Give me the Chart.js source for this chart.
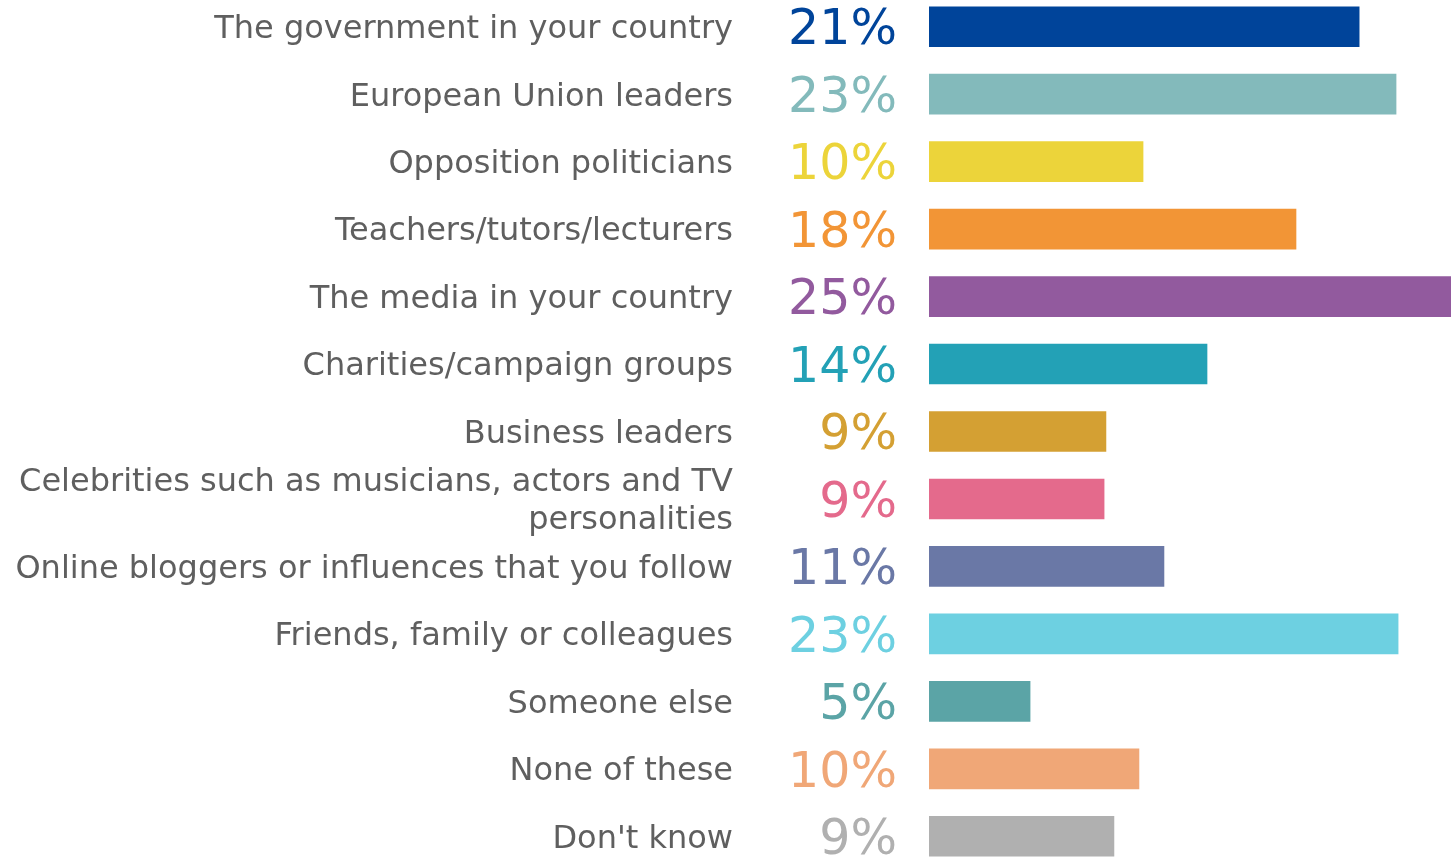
<!DOCTYPE html>
<html>
<head>
<meta charset="utf-8">
<script src="https://cdn.jsdelivr.net/npm/chart.js@4"></script>
<style>
html,body{margin:0;padding:0;background:#fff;overflow:hidden;width:1451px;height:858px;}
#c{position:absolute;left:0;top:-7px;}
</style>
</head>
<body>
<canvas id="c" width="1451" height="877" style="width:1451px;height:877px;"></canvas>
<script>
const categories = [
  "The government in your country",
  "European Union leaders",
  "Opposition politicians",
  "Teachers/tutors/lecturers",
  "The media in your country",
  "Charities/campaign groups",
  "Business leaders",
  ["Celebrities such as musicians, actors and TV", "personalities"],
  "Online bloggers or influences that you follow",
  "Friends, family or colleagues",
  "Someone else",
  "None of these",
  "Don't know"
];
const values = [20.98, 22.78, 10.44, 17.9, 25.46, 13.56, 8.63, 8.54, 11.46, 22.88, 4.93, 10.24, 9.02];
const valueLabels = ["21%", "23%", "10%", "18%", "25%", "14%", "9%", "9%", "11%", "23%", "5%", "10%", "9%"];
const colors = ["#00449A", "#83BABB", "#ECD43A", "#F29536", "#925A9E", "#23A1B6", "#D4A033", "#E46A8C", "#6A78A6", "#6DD0E1", "#5BA4A6", "#F0A777", "#B0B0B0"];

const FONT = "'DejaVu Sans', sans-serif";

const valuePlugin = {
  id: 'valueLabels',
  afterDatasetsDraw(chart) {
    const ctx = chart.ctx;
    const meta = chart.getDatasetMeta(0);
    ctx.save();
    ctx.font = "49px " + FONT;
    ctx.textAlign = 'right';
    ctx.textBaseline = 'middle';
    meta.data.forEach((bar, i) => {
      ctx.fillStyle = colors[i];
      ctx.fillText(valueLabels[i], 897, bar.y + 5);
    });
    ctx.restore();
  }
};

new Chart(document.getElementById('c'), {
  type: 'bar',
  data: {
    labels: categories,
    datasets: [{
      data: values,
      backgroundColor: colors,
      borderWidth: 0,
      barThickness: 40
    }]
  },
  options: {
    indexAxis: 'y',
    responsive: false,
    maintainAspectRatio: false,
    animation: false,
    layout: { padding: 0 },
    plugins: { legend: { display: false }, tooltip: { enabled: false } },
    scales: {
      x: { display: false, min: 0, max: 25.46 },
      y: {
        grid: { display: false, drawTicks: false },
        border: { display: false },
        ticks: {
          autoSkip: false,
          color: '#5f5f5f',
          padding: 196,
          labelOffset: 3,
          font: { family: FONT, size: 32, lineHeight: 1.2 }
        },
        afterFit(scale) {
          scale.width = 929;
          scale.paddingTop = 0;
          scale.paddingBottom = 0;
        }
      }
    }
  },
  plugins: [valuePlugin]
});
</script>
</body>
</html>
